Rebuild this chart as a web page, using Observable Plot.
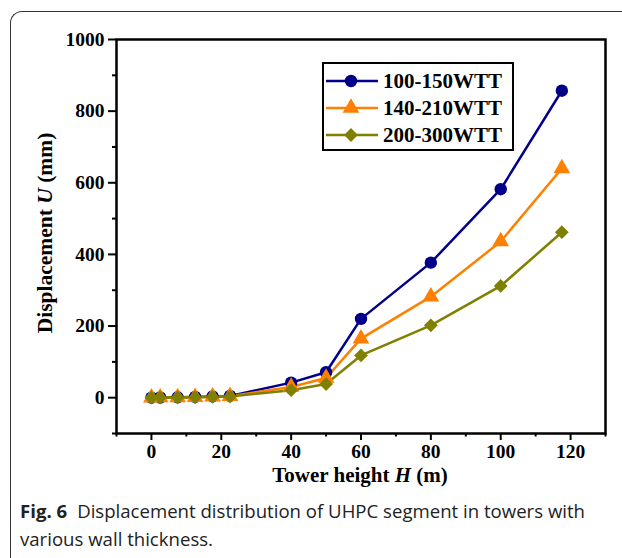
<!DOCTYPE html>
<html>
<head>
<meta charset="utf-8">
<script src="https://cdn.jsdelivr.net/npm/d3@7"></script>
<script src="https://cdn.jsdelivr.net/npm/@observablehq/plot@0.6"></script>
<style>
  html, body { margin: 0; padding: 0; background: #fff; width: 622px; height: 558px; overflow: hidden; }
  #wrap { position: relative; width: 622px; height: 558px; }
  #card { position: absolute; left: 10px; top: 11px; width: 700px; height: 700px;
          border-top: 1.3px solid #333; border-left: 1.3px solid #333; border-top-left-radius: 12px; }
  #chart { position: absolute; left: 0; top: 0; }
  #caption { position: absolute; left: 20px; top: 497px; width: 600px;
             font-family: "Open Sans", "Noto Sans", sans-serif; font-size: 18.6px; line-height: 28px; color: #222; }
  #caption div { white-space: nowrap; }
  #caption b { font-weight: 700; margin-right: 10px; }
</style>
</head>
<body>
<div id="wrap">
  <div id="card"></div>
  <div id="chart"></div>
  <div id="caption">
    <div><b>Fig. 6</b><span>Displacement distribution of UHPC segment in towers with</span></div>
    <div>various wall thickness.</div>
  </div>
</div>
<script>
// ---- data ----
const heights = [0, 2.5, 7.5, 12.5, 17.5, 22.5, 40, 50, 60, 80, 100, 117.5];
const u100_150 = [0, 0.5, 1, 2, 3.5, 5, 42, 71, 220, 377, 582, 857];
const u140_210 = [0, 0.4, 0.8, 1.6, 2.8, 4, 30, 55, 165, 282, 436, 640];
const u200_300 = [0, 0.3, 0.6, 1.2, 2, 3, 21, 38, 118, 202, 312, 462];
const seriesNames = ["100-150WTT", "140-210WTT", "200-300WTT"];
const seriesColors = ["#00008a", "#ff8000", "#808000"];
const seriesSymbols = ["circle", "triangle", "diamond2"];
const seriesR = [6.2, 6.2, 6.2];
const xMajor = [0, 20, 40, 60, 80, 100, 120];
const xMinor = [-10, 10, 30, 50, 70, 90, 110, 130];
const yMajor = [0, 200, 400, 600, 800, 1000];
const yMinor = [-100, 100, 300, 500, 700, 900];

const seriesValues = [u100_150, u140_210, u200_300];
const tables = seriesValues.map((vals, k) => heights.map((h, i) => ({H: h, U: vals[i], s: seriesNames[k]})));

const lineMarks = [];
tables.forEach((t, k) => {
  lineMarks.push(Plot.line(t, {x: "H", y: "U", stroke: seriesColors[k], strokeWidth: 2.5}));
});
tables.forEach((t, k) => {
  lineMarks.push(Plot.dot(t, {x: "H", y: "U", fill: seriesColors[k], stroke: "none", symbol: () => seriesSymbols[k], r: seriesR[k]}));
});

const chart = Plot.plot({
  width: 622,
  height: 488,
  marginLeft: 116,
  marginRight: 17,
  marginTop: 39,
  marginBottom: 55,
  style: {fontFamily: "'Liberation Serif', 'Times New Roman', serif", fontWeight: "bold", fontSize: "19.5px", color: "#000", background: "transparent"},
  x: {domain: [-10, 130]},
  y: {domain: [-100, 1000]},
  marks: [
    Plot.axisX({ticks: xMajor, tickSize: 7, tickPadding: 4, strokeWidth: 2, label: null}),
    Plot.axisX({ticks: xMinor, tickSize: 3.5, tickFormat: () => "", strokeWidth: 2, label: null}),
    Plot.axisY({ticks: yMajor, tickSize: 8, tickPadding: 4, strokeWidth: 2, tickFormat: d => String(d), label: null}),
    Plot.axisY({ticks: yMinor, tickSize: 4, tickFormat: () => "", strokeWidth: 2, label: null}),
    ...lineMarks,
    Plot.frame({stroke: "#000", strokeWidth: 2.5})
  ]
});
document.getElementById("chart").appendChild(chart);

// axis titles with italic variables
const svg = d3.select(chart);
const fontFam = "'Liberation Serif', 'Times New Roman', serif";
const xt = svg.append("text").attr("x", 360).attr("y", 482).attr("text-anchor", "middle")
  .attr("font-family", fontFam).attr("font-weight", "bold").attr("font-size", 21).attr("fill", "#000");
xt.append("tspan").text("Tower height ");
xt.append("tspan").attr("font-style", "italic").text("H");
xt.append("tspan").text(" (m)");

const yt = svg.append("text").attr("transform", "translate(52,233) rotate(-90)").attr("text-anchor", "middle")
  .attr("font-family", fontFam).attr("font-weight", "bold").attr("font-size", 21.5).attr("fill", "#000");
yt.append("tspan").text("Displacement ");
yt.append("tspan").attr("font-style", "italic").text("U");
yt.append("tspan").text(" (mm)");

// legend
const lg = svg.append("g");
lg.append("rect").attr("x", 323).attr("y", 63).attr("width", 190).attr("height", 87)
  .attr("fill", "#fff").attr("stroke", "#000").attr("stroke-width", 2);
const symMap = {circle: d3.symbolCircle, triangle: d3.symbolTriangle, diamond2: d3.symbolDiamond2};
seriesNames.forEach((name, k) => {
  const yy = 81 + k * 27;
  lg.append("line").attr("x1", 326).attr("x2", 378).attr("y1", yy).attr("y2", yy)
    .attr("stroke", seriesColors[k]).attr("stroke-width", 2.5);
  lg.append("path").attr("transform", `translate(351,${yy})`)
    .attr("d", d3.symbol(symMap[seriesSymbols[k]], Math.PI * seriesR[k] * seriesR[k])())
    .attr("fill", seriesColors[k]);
  lg.append("text").attr("x", 383).attr("y", yy).attr("dy", "0.35em").attr("text-anchor", "start")
    .attr("font-family", fontFam).attr("font-weight", "bold").attr("font-size", 21).attr("fill", "#000")
    .text(name);
});
</script>
</body>
</html>
